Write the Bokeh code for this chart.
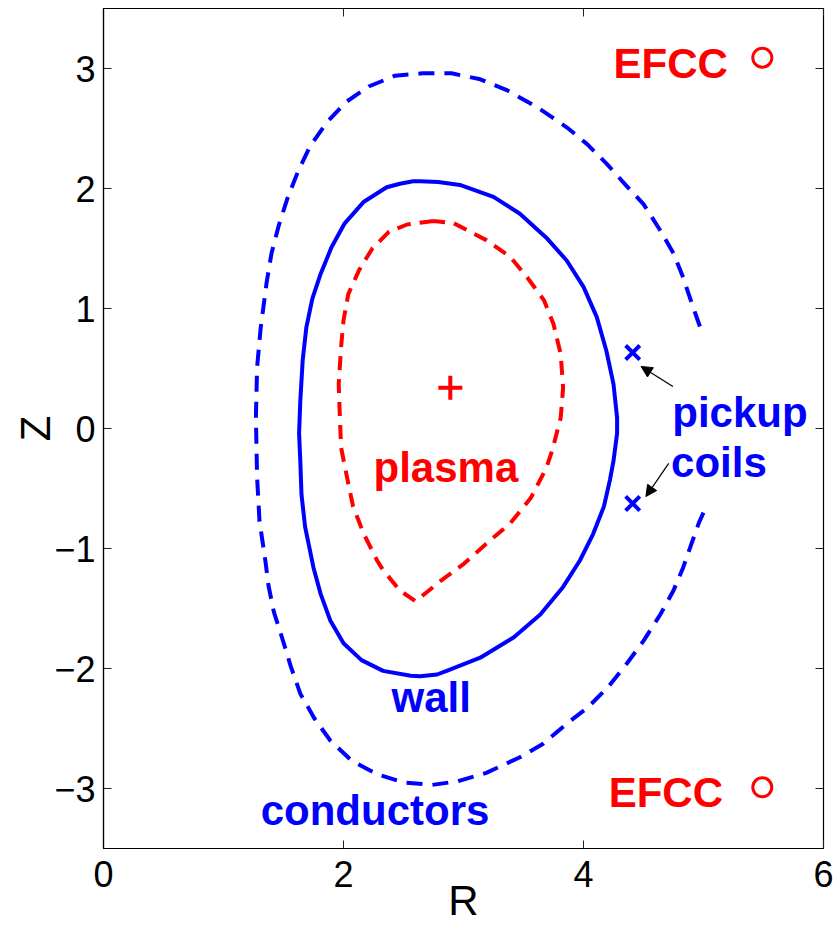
from bokeh.plotting import figure
from bokeh.models import LinearAxis, FixedTicker, Arrow, NormalHead, ColumnDataSource, Range1d
from bokeh.core.properties import value
from bokeh.embed import file_html
from bokeh.resources import INLINE

# ---------------- data ----------------
x_ticks = [0, 2, 4, 6]
x_tick_labels = ["0", "2", "4", "6"]
y_ticks = [-3, -2, -1, 0, 1, 2, 3]
y_tick_labels = ["\u22123", "\u22122", "\u22121", "0", "1", "2", "3"]

# conductors (open dashed curve, from upper-right end round to lower-right end)
conductor_R = [4.97, 4.91, 4.83, 4.75, 4.64, 4.50, 4.36, 4.19, 4.03, 3.86, 3.61, 3.36, 3.14,
               2.90, 2.66, 2.43, 2.21, 2.02, 1.86, 1.72, 1.62, 1.53, 1.46, 1.40, 1.36, 1.31,
               1.28, 1.27, 1.28, 1.30, 1.35, 1.375, 1.42, 1.49, 1.56, 1.64, 1.76, 1.89, 2.07,
               2.28, 2.50, 2.74, 2.95, 3.19, 3.47, 3.66, 3.86, 4.03, 4.20, 4.36, 4.50, 4.64,
               4.75, 4.83, 4.90, 4.96, 5.00]
conductor_Z = [0.85, 1.02, 1.26, 1.46, 1.65, 1.87, 2.02, 2.21, 2.37, 2.51, 2.68, 2.82, 2.91,
               2.96, 2.96, 2.94, 2.85, 2.72, 2.55, 2.35, 2.14, 1.91, 1.69, 1.46, 1.22, 0.84,
               0.51, 0.09, -0.41, -0.77, -1.11, -1.31, -1.53, -1.75, -1.98, -2.21, -2.42,
               -2.60, -2.77, -2.88, -2.95, -2.97, -2.94, -2.87, -2.74, -2.63, -2.46, -2.33,
               -2.16, -1.96, -1.77, -1.55, -1.35, -1.16, -0.96, -0.79, -0.70]

# wall (closed solid curve)
wall_R = [2.64, 2.58, 2.47, 2.36, 2.17, 2.01, 1.90, 1.81, 1.74, 1.69, 1.66, 1.64, 1.63, 1.64,
          1.65, 1.68, 1.75, 1.81, 1.89, 2.00, 2.15, 2.33, 2.56, 2.64, 2.78, 2.86, 3.14, 3.42,
          3.64, 3.83, 3.97, 4.08, 4.17, 4.22, 4.25, 4.28, 4.28, 4.25, 4.19, 4.11, 4.00, 3.86,
          3.69, 3.47, 3.25, 2.97, 2.79, 2.64]
wall_Z = [2.06, 2.06, 2.04, 2.01, 1.89, 1.71, 1.51, 1.29, 1.08, 0.84, 0.57, 0.23, -0.04,
          -0.27, -0.55, -0.82, -1.16, -1.38, -1.60, -1.79, -1.93, -2.02, -2.06, -2.065, -2.05,
          -2.02, -1.91, -1.74, -1.55, -1.32, -1.10, -0.88, -0.65, -0.43, -0.27, -0.04, 0.09,
          0.37, 0.65, 0.93, 1.18, 1.40, 1.59, 1.79, 1.93, 2.03, 2.055, 2.06]

# plasma boundary (closed dashed curve)
plasma_R = [2.75, 2.53, 2.38, 2.24, 2.13, 2.04, 2.00, 1.98, 1.96, 1.97, 1.98, 2.03, 2.08,
            2.17, 2.28, 2.33, 2.47, 2.60, 2.81, 3.00, 3.19, 3.39, 3.56, 3.69, 3.74, 3.81,
            3.83, 3.81, 3.75, 3.67, 3.53, 3.39, 3.19, 2.92, 2.75]
plasma_Z = [1.73, 1.70, 1.64, 1.50, 1.32, 1.12, 0.90, 0.68, 0.37, 0.09, -0.16, -0.41, -0.65,
            -0.88, -1.10, -1.18, -1.35, -1.44, -1.27, -1.13, -0.96, -0.79, -0.58, -0.33,
            -0.18, 0.09, 0.34, 0.62, 0.87, 1.07, 1.26, 1.43, 1.57, 1.71, 1.73]

# magnetic axis
axis_R = [2.89]
axis_Z = [0.34]

# pickup coils
pickup_R = [4.41, 4.41]
pickup_Z = [0.633, -0.625]

# EFCC coils
efcc_R = [5.49, 5.49]
efcc_Z = [3.09, -2.99]

# text labels (anchor: left edge, baseline)
label_text = ["EFCC", "EFCC", "pickup", "coils", "plasma", "wall", "conductors"]
label_R = [4.25, 4.21, 4.74, 4.73, 2.25, 2.40, 1.31]
label_Z = [3.045, -3.035, 0.133, -0.283, -0.325, -2.245, -3.185]
label_color = ["#ff0000", "#ff0000", "#0000ff", "#0000ff", "#ff0000", "#0000ff", "#0000ff"]

# arrows: tail -> head
arrow_R0 = [4.745, 4.71]
arrow_Z0 = [0.35, -0.29]
arrow_R1 = [4.48, 4.52]
arrow_Z1 = [0.517, -0.567]

BLUE = "#0000ff"
RED = "#ff0000"
FONT = "Liberation Sans"

# ---------------- figure ----------------
p = figure(width=836, height=926, x_range=Range1d(0, 6), y_range=Range1d(-3.5, 3.5),
           output_backend="svg", toolbar_location=None,
           x_axis_label="R", y_axis_label="Z",
           min_border_left=103, min_border_right=13, min_border_top=8, min_border_bottom=78)
p.xgrid.visible = False
p.ygrid.visible = False
p.outline_line_color = "black"
p.outline_line_width = 1.2
p.background_fill_color = "white"
p.border_fill_color = "white"

for ax, ticks, labels in ((p.xaxis[0], x_ticks, x_tick_labels), (p.yaxis[0], y_ticks, y_tick_labels)):
    ax.ticker = FixedTicker(ticks=ticks)
    ax.major_label_overrides = {t: l for t, l in zip(ticks, labels)}
    ax.major_tick_in = 8
    ax.major_tick_out = 0
    ax.minor_tick_line_color = None
    ax.major_tick_line_color = "#222222"
    ax.axis_line_color = "black"
    ax.axis_line_width = 1.2
    ax.major_label_text_font = FONT
    ax.major_label_text_font_size = "36px"
    ax.major_label_text_color = "black"
    ax.axis_label_text_font = FONT
    ax.axis_label_text_font_size = "42px"
    ax.axis_label_text_font_style = "normal"
    ax.axis_label_text_color = "black"

p.xaxis[0].major_label_standoff = 12
p.xaxis[0].axis_label_standoff = -13
p.yaxis[0].major_label_standoff = 8
p.yaxis[0].axis_label_standoff = -8

for ticks, side in ((x_ticks, "above"), (y_ticks, "right")):
    extra = LinearAxis(ticker=FixedTicker(ticks=ticks),
                       major_label_overrides={t: "" for t in ticks},
                       major_label_text_font_size="0px", major_label_standoff=0,
                       major_tick_in=8, major_tick_out=0, minor_tick_line_color=None,
                       major_tick_line_color="#222222", axis_line_color=None)
    p.add_layout(extra, side)

# curves
p.line(conductor_R, conductor_Z, line_color=BLUE, line_width=4, line_dash="16 10", line_join="round")
p.line(wall_R, wall_Z, line_color=BLUE, line_width=4, line_join="round")
p.line(plasma_R, plasma_Z, line_color=RED, line_width=4, line_dash="14 9", line_join="round")

# markers
p.scatter(axis_R, axis_Z, marker="cross", size=24, line_color=RED, line_width=4)
p.scatter(pickup_R, pickup_Z, marker="x", size=20, line_color=BLUE, line_width=4)
p.scatter(efcc_R, efcc_Z, marker="circle", size=19, fill_color=None, line_color=RED, line_width=3)

# arrows
for r0, z0, r1, z1 in zip(arrow_R0, arrow_Z0, arrow_R1, arrow_Z1):
    p.add_layout(Arrow(x_start=r0, y_start=z0, x_end=r1, y_end=z1, line_width=1.2,
                       line_color="black",
                       end=NormalHead(size=11, fill_color="black", line_color="black", line_width=1)))

# text labels
src = ColumnDataSource(dict(R=label_R, Z=label_Z, text=label_text, color=label_color))
p.text(x="R", y="Z", text="text", text_color="color", source=src,
       text_font=value(FONT), text_font_style="bold", text_font_size="42px",
       text_align="left", text_baseline="alphabetic")

open("out.html", "w").write(file_html(p, INLINE))
